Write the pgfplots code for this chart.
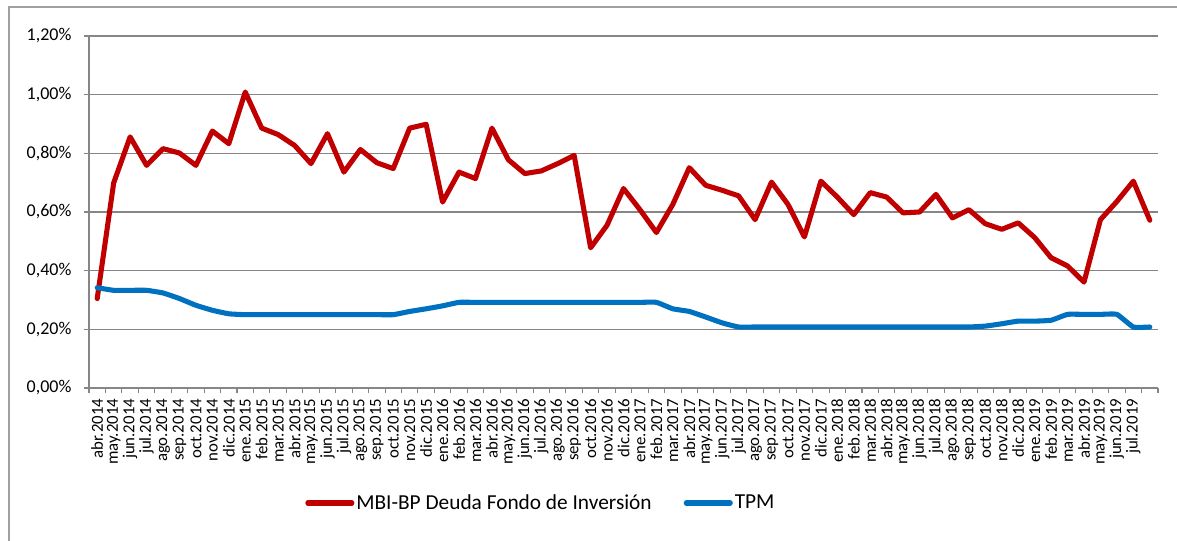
\documentclass[border=0pt]{standalone}
\usepackage{pgfplots}
\pgfplotsset{compat=1.18}
\usepackage{fontspec}
\setmainfont{Carlito}
\definecolor{redline}{HTML}{C00000}
\definecolor{blueline}{HTML}{0070C0}
\definecolor{gridgray}{HTML}{868686}
\definecolor{framegray}{HTML}{A0A0A0}
\begin{document}
\begin{tikzpicture}
\path[use as bounding box] (0pt,0pt) rectangle (882.75pt,405pt);
\draw[framegray, line width=0.8pt] (6.75pt,-30pt) -- (6.75pt,399.75pt) -- (920pt,399.75pt);
\begin{axis}[
  at={(66.75pt,114pt)}, anchor=south west,
  scale only axis, width=801.75pt, height=264pt,
  xmin=-0.5, xmax=64.5, ymin=0, ymax=1.2,
  axis lines=left,
  axis line style={draw=gridgray, line width=1pt, -},
  tick align=outside,
  major tick length=4pt,
  tick style={draw=gridgray, line width=0.8pt},
  xtick={-0.5,0.5,...,64.5},
  xticklabel={\relax},
  extra x ticks={0,...,63},
  extra x tick labels={abr.2014,may.2014,jun.2014,jul.2014,ago.2014,sep.2014,oct.2014,nov.2014,dic.2014,
    ene.2015,feb.2015,mar.2015,abr.2015,may.2015,jun.2015,jul.2015,ago.2015,sep.2015,oct.2015,nov.2015,dic.2015,
    ene.2016,feb.2016,mar.2016,abr.2016,may.2016,jun.2016,jul.2016,ago.2016,sep.2016,oct.2016,nov.2016,dic.2016,
    ene.2017,feb.2017,mar.2017,abr.2017,may.2017,jun.2017,jul.2017,ago.2017,sep.2017,oct.2017,nov.2017,dic.2017,
    ene.2018,feb.2018,mar.2018,abr.2018,may.2018,jun.2018,jul.2018,ago.2018,sep.2018,oct.2018,nov.2018,dic.2018,
    ene.2019,feb.2019,mar.2019,abr.2019,may.2019,jun.2019,jul.2019},
  extra x tick style={major tick length=0pt},
  xticklabel style={font=\fontsize{12.6}{13}\selectfont, text=black, inner sep=0pt, yshift=-8pt, rotate=90, anchor=east},
  ytick={0,0.2,0.4,0.6,0.8,1.0,1.2},
  yticklabels={{0,00\%},{0,20\%},{0,40\%},{0,60\%},{0,80\%},{1,00\%},{1,20\%}},
  yticklabel style={font=\fontsize{13.5}{14}\selectfont, text=black, inner sep=0pt, anchor=east, xshift=-9pt},
  ymajorgrids,
  major grid style={draw=gridgray, line width=1pt},
  legend columns=2,
  legend style={at={(0.2021,-0.3267)}, anchor=west, draw=none, fill=none, inner sep=0pt,
    font=\fontsize{16}{18}\selectfont, nodes={inner sep=1.5pt},
    /tikz/every even column/.append style={column sep=22.5pt}},
  legend image code/.code={\draw[#1, line cap=round] (0pt,0pt) -- (33pt,0pt);},
]
\addplot[redline, line width=3.8pt, line join=round, line cap=round] coordinates {
(0,0.305)(1,0.699)(2,0.856)(3,0.759)(4,0.816)(5,0.801)(6,0.759)(7,0.876)(8,0.833)(9,1.009)
(10,0.886)(11,0.864)(12,0.827)(13,0.765)(14,0.867)(15,0.736)(16,0.813)(17,0.768)(18,0.748)(19,0.886)
(20,0.899)(21,0.634)(22,0.736)(23,0.714)(24,0.886)(25,0.778)(26,0.731)(27,0.740)(28,0.765)(29,0.793)
(30,0.478)(31,0.555)(32,0.680)(33,0.608)(34,0.530)(35,0.626)(36,0.751)(37,0.691)(38,0.674)(39,0.655)
(40,0.574)(41,0.702)(42,0.626)(43,0.515)(44,0.705)(45,0.651)(46,0.591)(47,0.666)(48,0.651)(49,0.597)
(50,0.600)(51,0.660)(52,0.580)(53,0.608)(54,0.560)(55,0.541)(56,0.563)(57,0.513)(58,0.444)(59,0.416)
(60,0.361)(61,0.574)(62,0.636)(63,0.705)(64,0.572)};
\addlegendentry{MBI-BP Deuda Fondo de Inversión}
\addplot[blueline, line width=3.8pt, line join=round, line cap=round, smooth, tension=0.25] coordinates {
(0,0.342)(1,0.333)(2,0.333)(3,0.333)(4,0.324)(5,0.305)(6,0.282)(7,0.265)(8,0.253)(9,0.250)
(10,0.250)(11,0.250)(12,0.250)(13,0.250)(14,0.250)(15,0.250)(16,0.250)(17,0.250)(18,0.250)(19,0.261)
(20,0.270)(21,0.280)(22,0.292)(23,0.292)(24,0.292)(25,0.292)(26,0.292)(27,0.292)(28,0.292)(29,0.292)
(30,0.292)(31,0.292)(32,0.292)(33,0.292)(34,0.292)(35,0.270)(36,0.261)(37,0.242)(38,0.222)(39,0.208)
(40,0.208)(41,0.208)(42,0.208)(43,0.208)(44,0.208)(45,0.208)(46,0.208)(47,0.208)(48,0.208)(49,0.208)
(50,0.208)(51,0.208)(52,0.208)(53,0.208)(54,0.211)(55,0.219)(56,0.228)(57,0.228)(58,0.231)(59,0.251)
(60,0.251)(61,0.251)(62,0.251)(63,0.208)(64,0.208)};
\addlegendentry{TPM}
\end{axis}
\end{tikzpicture}
\end{document}
